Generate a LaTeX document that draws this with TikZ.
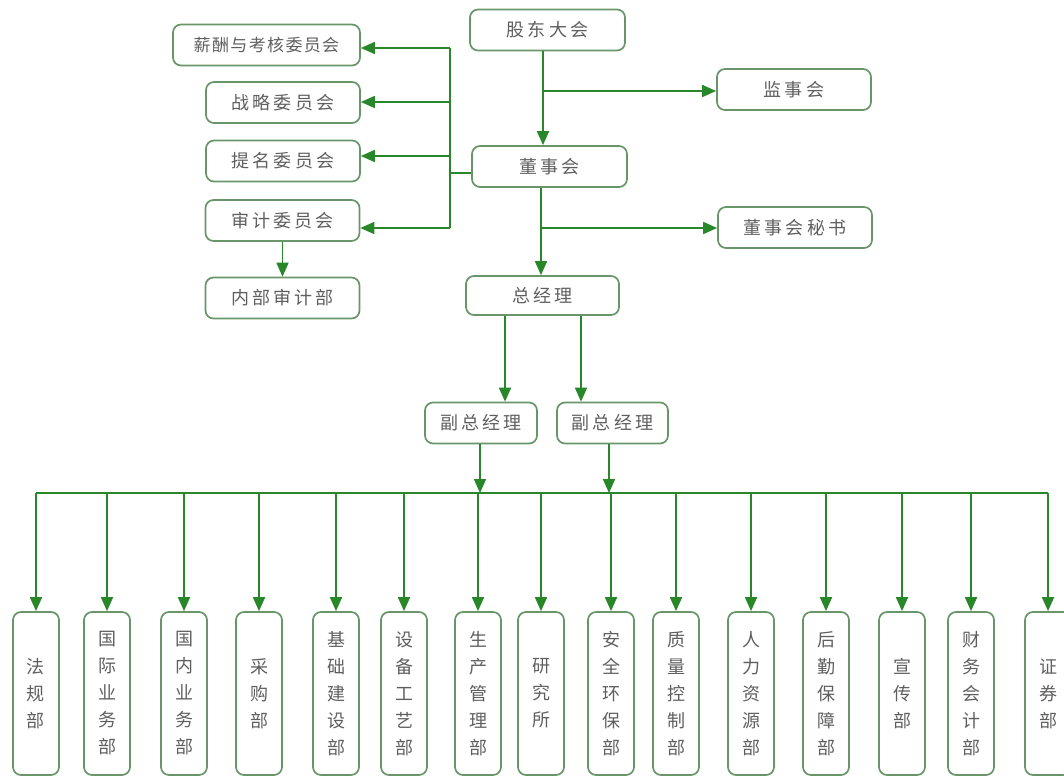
\documentclass[tikz,border=0pt]{standalone}
\usepackage{fontspec}
\setmainfont{Noto Sans CJK SC}
\newfontfamily\cjkwide{Noto Sans CJK SC}[LetterSpace=18]
\newfontfamily\cjknarrow{Noto Sans CJK SC}[LetterSpace=8]
\usetikzlibrary{arrows.meta}
\definecolor{linegreen}{RGB}{40,135,40}
\definecolor{boxgreen}{RGB}{105,150,105}
\definecolor{txtgray}{RGB}{95,95,95}
\begin{document}
\begin{tikzpicture}[x=1pt,y=-1pt,
  box/.style={draw=boxgreen,line width=1.7pt,rounded corners=8pt,fill=white,text=txtgray,inner sep=0pt},
  hbox/.style={box,minimum height=41pt,font=\cjkwide\fontsize{18}{20}\selectfont},
  vbox/.style={box,minimum width=46pt,minimum height=163pt,align=center,font=\fontsize{18}{27}\selectfont},
  conn/.style={draw=linegreen,line width=1.7pt},
  arr/.style={conn,-{Triangle[length=14pt,width=12pt]}}]
\useasboundingbox (0,0) rectangle (1064,778);
% top nodes
\node[hbox,minimum width=187pt,font=\cjknarrow\fontsize{17}{20}\selectfont] (xc) at (266.5,45) {薪酬与考核委员会};
\node[hbox,minimum width=154pt] (zl) at (283,102.5) {战略委员会};
\node[hbox,minimum width=154pt] (tm) at (283,161) {提名委员会};
\node[hbox,minimum width=154pt] (sj) at (282.5,220.5) {审计委员会};
\node[hbox,minimum width=154pt] (nb) at (282.5,298) {内部审计部};
\node[hbox,minimum width=155pt] (gd) at (547.5,30) {股东大会};
\node[hbox,minimum width=154pt] (js) at (794,89.5) {监事会};
\node[hbox,minimum width=155pt] (ds) at (549.5,166.5) {董事会};
\node[hbox,minimum width=154pt] (ms) at (795,227.5) {董事会秘书};
\node[hbox,minimum width=153pt,minimum height=39pt] (zj) at (542.5,295.5) {总经理};
\node[hbox,minimum width=112pt] (f1) at (481,423) {副总经理};
\node[hbox,minimum width=111pt] (f2) at (612.5,423) {副总经理};
% committees bus
\coordinate (bL) at (450,173);
\coordinate (bT) at (450,48);
\coordinate (bZ) at (450,102);
\coordinate (bM) at (450,156);
\coordinate (bB) at (450,228);
\draw[conn] (ds.west |- bL) -- (bL);
\draw[conn] (bT) -- (bB);
\draw[arr] (bT) -- (bT -| xc.east);
\draw[arr] (bZ) -- (bZ -| zl.east);
\draw[arr] (bM) -- (bM -| tm.east);
\draw[arr] (bB) -- (bB -| sj.east);
\draw[arr] (sj.south) -- (nb.north);
% main chain
\coordinate (g1) at (543,91);
\draw[arr] (gd.south -| g1) -- (ds.north -| g1);
\draw[arr] (g1) -- (g1 -| js.west);
\coordinate (g2) at (541,228);
\draw[arr] (ds.south -| g2) -- (zj.north -| g2);
\draw[arr] (g2) -- (g2 -| ms.west);
\coordinate (z1) at (505,0);
\coordinate (z2) at (581,0);
\draw[arr] (zj.south -| z1) -- (f1.north -| z1);
\draw[arr] (zj.south -| z2) -- (f2.north -| z2);
% department bus
\coordinate (busL) at (36,493);
\coordinate (busR) at (1048,493);
\draw[conn] (busL) -- (busR);
\coordinate (p1) at (480,0);
\coordinate (p2) at (609,0);
\draw[arr] (f1.south -| p1) -- (busL -| p1);
\draw[arr] (f2.south -| p2) -- (busL -| p2);
\foreach \bx/\bn/\bt in {
  36/d1/法\\规\\部,
  107/d2/国\\际\\业\\务\\部,
  184/d3/国\\内\\业\\务\\部,
  259/d4/采\\购\\部,
  336/d5/基\\础\\建\\设\\部,
  404/d6/设\\备\\工\\艺\\部,
  478/d7/生\\产\\管\\理\\部,
  541/d8/研\\究\\所,
  611/d9/安\\全\\环\\保\\部,
  676/d10/质\\量\\控\\制\\部,
  751/d11/人\\力\\资\\源\\部,
  826/d12/后\\勤\\保\\障\\部,
  902/d13/宣\\传\\部,
  971/d14/财\\务\\会\\计\\部,
  1048/d15/证\\券\\部}{
  \node[vbox] (\bn) at (\bx,693.5) {\bt};
  \draw[arr] (busL -| \bn.north) -- (\bn.north);
}
\end{tikzpicture}
\end{document}
